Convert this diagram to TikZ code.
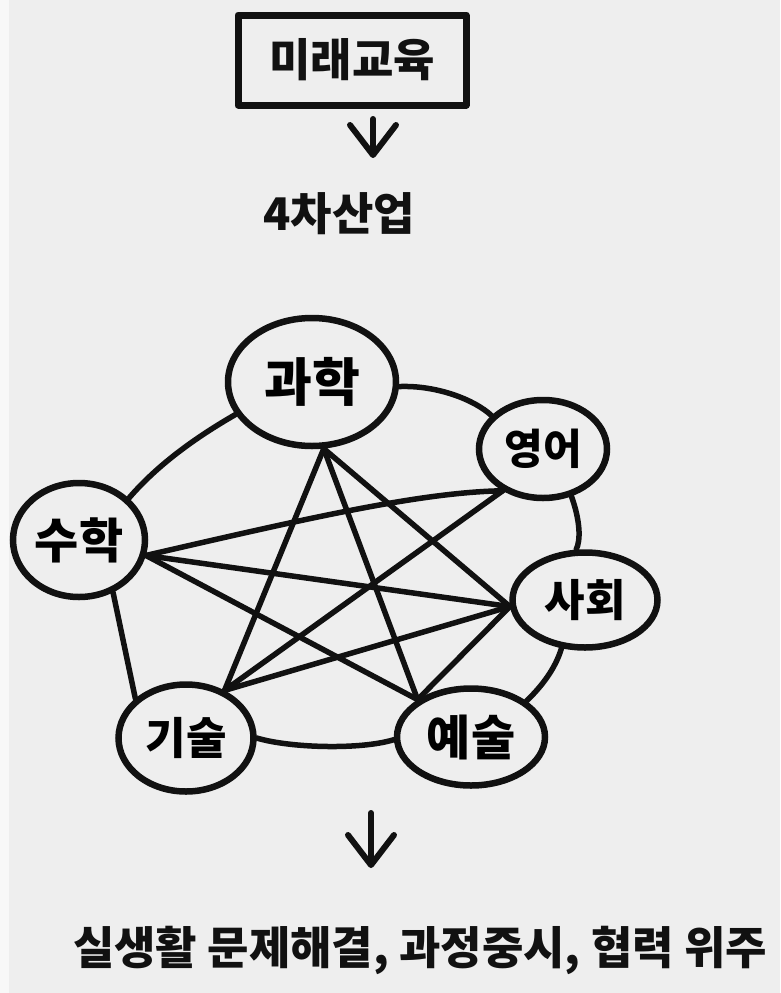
\documentclass[tikz,border=0pt]{standalone}
\usepackage{fontspec}
\newfontfamily\kr{Noto Sans CJK KR}
\usetikzlibrary{shapes.geometric,arrows.meta}
\definecolor{bg}{HTML}{EEEEEE}
\definecolor{strip}{HTML}{F8F8F8}
\definecolor{ink}{HTML}{111111}
\newcommand{\krf}[1]{\kr\bfseries\fontsize{#1}{#1}\selectfont}
\tikzset{
  subj/.style={ellipse, draw=ink, line width=6.5pt, inner sep=0pt},
  link/.style={draw=ink, line width=5.5pt, line cap=round},
  titlebox/.style={draw=ink, line width=7pt, rectangle, inner sep=0pt, line join=round},
  downarrow/.style={draw=ink, line width=6pt, line cap=round, -{Straight Barb[length=30pt,width=46pt,round]}},
  lbl/.style={inner sep=0pt, text=ink}
}
\begin{document}
\begin{tikzpicture}[x=1pt,y=-1pt]
\fill[bg] (0,0) rectangle (780,993);
\fill[strip] (0,0) rectangle (9,993);
\useasboundingbox (0,0) rectangle (780,993);

% top part
\node[titlebox, minimum width=228pt, minimum height=90pt, font=\krf{45}, text=ink] (edu) at (352,60) {\raisebox{-6pt}{미래교육}};
\coordinate (a1s) at (373,119);
\coordinate (a1e) at (373,158);
\draw[downarrow] (a1s) -- (a1e);
\node[lbl, font=\krf{45}] (ind) at (339,214) {4차산업};

% subject nodes
\node[subj, minimum width=168pt, minimum height=128pt, font=\krf{52}] (gw) at (312,382) {과학};
\node[subj, minimum width=128pt, minimum height=98pt, font=\krf{42}] (en) at (543,449) {영어};
\node[subj, minimum width=132pt, minimum height=114pt, font=\krf{48}] (ma) at (79,540) {수학};
\node[subj, minimum width=145pt, minimum height=95pt, font=\krf{44}] (so) at (585,600) {사회};
\node[subj, minimum width=135pt, minimum height=107pt, font=\krf{44}] (te) at (186,738) {기술};
\node[subj, minimum width=148pt, minimum height=97pt, font=\krf{48}] (ar) at (471,737) {예술};

% perimeter
\draw[link] (gw.-3) .. controls (437,385) and (475,400) .. (en.147);
\draw[link] (gw.-157) .. controls (200,435) and (160,462) .. (ma.40);
\draw[link] (en.-59) .. controls (580,520) and (581,540) .. (so.100);
\draw[link] (so.-116) .. controls (555,670) and (540,688) .. (ar.33);
\draw[link] (te.0) .. controls (290,748) and (360,750) .. (ar.182);
\draw[link] (ma.-57) -- (te.142);

% diagonals
\draw[link] (gw.-80) -- (te.51);
\draw[link] (gw.-80) -- (ar.145);
\draw[link] (gw.-80) -- (so.185);
\draw[link] (ma.-13) .. controls (300,520) and (420,492) .. (en.-134);
\draw[link] (ma.-13) -- (so.185);
\draw[link] (ma.-13) -- (ar.145);
\draw[link] (en.-134) -- (te.51);
\draw[link] (so.185) -- (te.51);
\draw[link] (so.185) -- (ar.145);

% bottom
\coordinate (a2s) at (371,813);
\coordinate (a2e) at (371,868);
\draw[downarrow] (a2s) -- (a2e);
\node[lbl, font=\krf{45}] (res) at (420,950) {실생활 문제해결, 과정중시, 협력 위주};
\end{tikzpicture}
\end{document}
